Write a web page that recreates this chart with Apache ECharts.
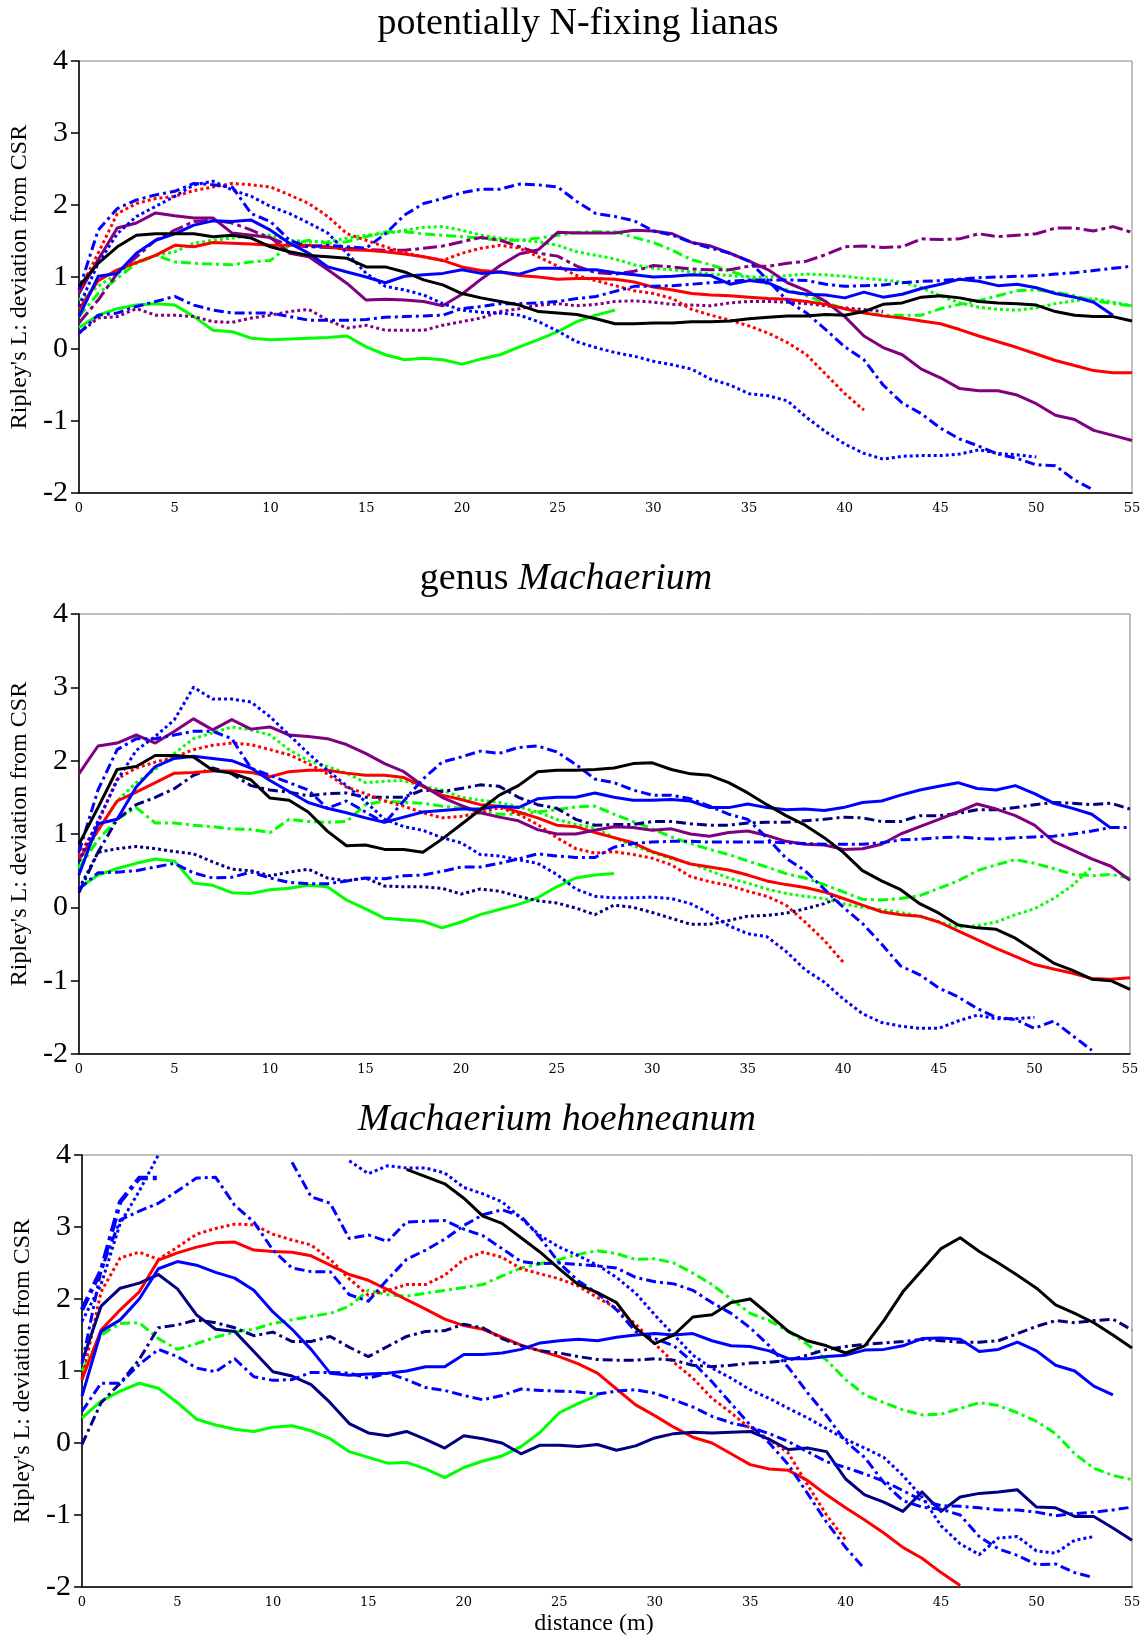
<!DOCTYPE html>
<html>
<head>
<meta charset="utf-8">
<script src="https://cdn.jsdelivr.net/npm/echarts@6/dist/echarts.min.js"></script>
<style>
    html, body {margin: 0; padding: 0; background: #fff;}
    #main {width: 1147px; height: 1638px;}
</style>
</head>
<body>
<div id="main"></div>
<script>
// distance (m), one value every metre
var dist = [0,1,2,3,4,5,6,7,8,9,10,11,12,13,14,15,16,17,18,19,20,21,22,23,24,25,26,27,
    28,29,30,31,32,33,34,35,36,37,38,39,40,41,42,43,44,45,46,47,48,49,50,51,52,53,54,55];
var x_ticks = [0, 55, 5];
var y_ticks = [-2, 4, 1];

// ---- potentially N-fixing lianas ----
var p1_red_solid = [0.55,0.95,1.10,1.20,1.30,1.44,1.42,1.48,1.47,1.46, 1.44,1.44,1.44,1.42,1.38,1.37,1.35,1.32,1.28,1.23,
    1.14,1.09,1.07,1.02,1.00,0.97,0.98,0.98,0.97,0.93, 0.86,0.82,0.77,0.75,0.74,0.72,0.70,0.69,0.66,0.62,
    0.56,0.50,0.46,0.43,0.39,0.35,0.27,0.18,0.10,0.02, -0.07,-0.16,-0.23,-0.30,-0.33,-0.33];
var p1_red_dot = [0.80,1.33,1.88,2.02,2.09,2.12,2.20,2.25,2.30,2.28, 2.25,2.14,2.02,1.84,1.60,1.51,1.42,1.34,1.28,1.23,
    1.33,1.40,1.44,1.40,1.28,1.15,1.02,0.95,0.88,0.81, 0.77,0.70,0.55,0.47,0.40,0.32,0.22,0.09,-0.08,-0.35,
    -0.62,-0.85,null,null,null,null,null,null,null,null, null,null,null,null,null,null];
var p1_green_solid = [0.30,0.47,0.56,0.61,0.63,0.61,0.45,0.26,0.24,0.15, 0.13,0.14,0.15,0.16,0.18,0.03,-0.08,-0.15,-0.13,-0.15,
    -0.21,-0.14,-0.08,0.03,0.13,0.24,0.38,0.47,0.54,null, null,null,null,null,null,null,null,null,null,null,
    null,null,null,null,null,null,null,null,null,null, null,null,null,null,null,null];
var p1_green_dot = [0.68,0.87,1.05,1.21,1.30,1.35,1.47,1.51,1.54,1.58, 1.58,1.51,1.49,1.49,1.54,1.58,1.60,1.65,1.69,1.70,
    1.65,1.58,1.54,1.51,1.49,1.44,1.35,1.30,1.25,1.17, 1.12,1.10,1.07,1.04,1.02,1.00,1.00,1.02,1.04,1.03,
    1.01,0.98,0.96,0.93,0.85,0.74,0.64,0.58,0.55,0.54, 0.57,0.63,0.67,0.70,0.65,0.60];
var p1_green_dashdot = [0.45,0.77,0.98,1.19,1.30,1.21,1.19,1.18,1.17,1.21, 1.23,1.44,1.51,1.47,1.49,1.56,1.63,1.63,1.60,1.58,
    1.56,1.54,1.51,1.51,1.54,1.58,1.62,1.63,1.63,1.55, 1.48,1.37,1.24,1.17,1.08,1.00,0.90,0.82,0.74,0.64,
    0.56,0.50,0.47,0.47,0.47,0.56,0.62,0.67,0.74,0.81, 0.82,0.79,0.74,0.67,0.63,0.60];
var p1_blue_solid = [0.45,1.01,1.05,1.33,1.51,1.60,1.72,1.78,1.77,1.79, 1.65,1.47,1.33,1.14,1.07,1.00,0.92,1.01,1.03,1.05,
    1.10,1.05,1.07,1.04,1.12,1.12,1.10,1.10,1.06,1.03, 1.00,1.01,1.03,1.02,0.90,0.95,0.92,0.80,0.76,0.75,
    0.71,0.79,0.72,0.76,0.84,0.90,0.97,0.94,0.88,0.90, 0.85,0.77,0.72,0.65,0.47,null];
var p1_blue_dot = [0.59,1.19,1.60,1.84,1.98,2.12,2.28,2.33,2.21,2.12, 1.98,1.88,1.75,1.61,1.33,1.05,0.87,0.82,0.75,0.63,
    0.54,0.51,0.50,0.47,0.38,0.25,0.10,0.02,-0.05,-0.10, -0.17,-0.22,-0.28,-0.42,-0.50,-0.62,-0.65,-0.72,-0.95,-1.15,
    -1.32,-1.45,-1.53,-1.49,-1.48,-1.48,-1.46,-1.40,-1.45,-1.47, -1.50,null,null,null,null,null];
var p1_blue_dashdot_low = [0.22,0.47,0.50,0.59,0.66,0.73,0.61,0.54,0.50,0.50, 0.50,0.45,0.40,0.40,0.40,0.41,0.44,0.45,0.46,0.47,
    0.56,0.59,0.63,0.63,0.64,0.66,0.70,0.73,0.80,0.87, 0.87,0.88,0.90,0.92,0.94,0.96,0.96,0.96,0.95,0.90,
    0.87,0.88,0.89,0.92,0.94,0.95,0.97,0.99,1.00,1.01, 1.02,1.04,1.06,1.09,1.12,1.15];
var p1_blue_dashdot_high = [0.82,1.65,1.95,2.07,2.14,2.19,2.30,2.28,2.25,1.88, 1.77,1.51,1.42,1.44,1.42,1.40,1.60,1.86,2.02,2.09,
    2.17,2.22,2.22,2.29,2.28,2.25,2.05,1.88,1.84,1.78, 1.64,1.58,1.48,1.40,1.33,1.22,0.95,0.67,0.50,0.27,
    0.03,-0.15,-0.50,-0.75,-0.90,-1.10,-1.25,-1.35,-1.46,-1.52, -1.61,-1.62,-1.82,-1.96,null,null];
var p1_purple_solid = [0.77,1.24,1.68,1.75,1.89,1.85,1.82,1.82,1.61,1.58, 1.55,1.33,1.28,1.10,0.91,0.68,0.69,0.68,0.66,0.60,
    0.76,0.97,1.16,1.32,1.38,1.62,1.61,1.61,1.61,1.65, 1.64,1.60,1.48,1.43,1.33,1.22,1.10,0.92,0.81,0.66,
    0.45,0.18,0.02,-0.08,-0.28,-0.40,-0.55,-0.58,-0.58,-0.64, -0.76,-0.92,-0.98,-1.13,-1.20,-1.27];
var p1_purple_dot = [0.22,0.43,0.45,0.56,0.47,0.47,0.45,0.38,0.37,0.43, 0.47,0.52,0.55,0.40,0.29,0.33,0.26,0.26,0.26,0.33,
    0.38,0.43,0.52,0.56,0.61,0.63,0.60,0.62,0.66,0.67, 0.65,0.62,0.61,0.60,0.64,0.66,0.66,0.65,0.63,0.60,
    0.57,0.55,0.52,null,null,null,null,null,null,null, null,null,null,null,null,null];
var p1_purple_dashdot = [0.36,0.68,1.05,1.28,1.51,1.65,1.77,1.79,1.75,1.65, 1.54,1.44,1.42,1.41,1.40,1.38,1.37,1.37,1.40,1.43,
    1.49,1.55,1.51,1.42,1.33,1.29,1.15,1.06,1.04,1.08, 1.16,1.14,1.11,1.10,1.10,1.15,1.15,1.19,1.22,1.31,
    1.42,1.43,1.41,1.42,1.53,1.52,1.53,1.60,1.56,1.58, 1.60,1.68,1.68,1.64,1.70,1.62];
var p1_black = [0.87,1.19,1.42,1.58,1.60,1.60,1.60,1.56,1.58,1.54, 1.42,1.35,1.30,1.28,1.26,1.14,1.14,1.07,0.96,0.89,
    0.77,0.71,0.66,0.61,0.52,0.50,0.48,0.42,0.35,0.35, 0.36,0.36,0.38,0.38,0.39,0.42,0.44,0.46,0.46,0.48,
    0.47,0.52,0.62,0.64,0.72,0.74,0.71,0.66,0.64,0.63, 0.61,0.52,0.47,0.45,0.45,0.39];

// ---- genus Machaerium ----
var p2_purple = [1.82,2.20,2.24,2.35,2.24,2.40,2.57,2.42,2.56,2.43, 2.46,2.35,2.33,2.30,2.22,2.10,1.96,1.85,1.66,1.50,
    1.39,1.29,1.23,1.18,1.06,1.00,1.00,1.05,1.10,1.09, 1.05,1.07,1.00,0.97,1.02,1.04,0.98,0.90,0.86,0.85,
    0.79,0.80,0.86,1.00,1.10,1.20,1.30,1.41,1.34,1.25, 1.12,0.90,0.78,0.66,0.56,0.37];
var p2_black = [0.86,1.36,1.88,1.92,2.07,2.07,2.05,1.87,1.83,1.74, 1.49,1.46,1.30,1.04,0.84,0.85,0.79,0.79,0.75,0.93,
    1.13,1.33,1.53,1.66,1.85,1.87,1.87,1.88,1.90,1.96, 1.97,1.88,1.82,1.80,1.70,1.56,1.40,1.25,1.12,0.95,
    0.75,0.50,0.36,0.24,0.05,-0.08,-0.24,-0.28,-0.30,-0.42, -0.59,-0.76,-0.86,-0.98,-1.00,-1.12];
var p2_red_solid = [0.65,1.05,1.45,1.57,1.70,1.83,1.84,1.86,1.86,1.84, 1.78,1.85,1.87,1.87,1.83,1.80,1.80,1.77,1.65,1.53,
    1.47,1.40,1.38,1.30,1.22,1.12,1.10,1.02,0.95,0.88, 0.76,0.68,0.59,0.55,0.51,0.44,0.36,0.31,0.27,0.21,
    0.12,0.03,-0.06,-0.10,-0.12,-0.20,-0.32,-0.44,-0.56,-0.67, -0.78,-0.84,-0.90,-0.97,-0.98,-0.96];
var p2_red_dot = [0.70,1.15,1.75,1.90,1.98,2.05,2.15,2.21,2.24,2.22, 2.15,2.08,1.96,1.82,1.64,1.55,1.45,1.38,1.29,1.22,
    1.24,1.29,1.36,1.27,1.13,0.95,0.80,0.74,0.76,0.72, 0.67,0.58,0.42,0.35,0.30,0.22,0.15,0.03,-0.20,-0.45,
    -0.75,null,null,null,null,null,null,null,null,null, null,null,null,null,null,null];
var p2_green_solid = [0.26,0.44,0.53,0.60,0.66,0.63,0.33,0.30,0.20,0.19, 0.24,0.26,0.30,0.28,0.10,-0.02,-0.15,-0.17,-0.19,-0.28,
    -0.20,-0.10,-0.03,0.04,0.13,0.28,0.40,0.44,0.46,null, null,null,null,null,null,null,null,null,null,null,
    null,null,null,null,null,null,null,null,null,null, null,null,null,null,null,null];
var p2_green_dot = [0.55,1.05,1.45,1.70,1.88,2.10,2.30,2.38,2.46,2.42, 2.35,2.15,2.00,1.92,1.83,1.70,1.72,1.73,1.65,1.60,
    1.50,1.46,1.43,1.37,1.30,1.20,1.13,1.08,0.95,0.84, 0.75,0.66,0.60,0.50,0.40,0.33,0.25,0.19,0.15,0.12,
    0.05,0.00,-0.03,-0.07,-0.12,-0.20,-0.27,-0.25,-0.20,-0.10, -0.02,0.12,0.30,0.55,null,null];
var p2_green_dashdot = [0.53,0.92,1.20,1.36,1.15,1.15,1.12,1.10,1.07,1.06, 1.02,1.20,1.17,1.16,1.17,1.40,1.45,1.43,1.42,1.38,
    1.35,1.30,1.27,1.27,1.30,1.33,1.37,1.38,1.27,1.17, 1.07,0.96,0.87,0.79,0.72,0.63,0.55,0.46,0.40,0.31,
    0.21,0.11,0.10,0.12,0.16,0.26,0.36,0.50,0.58,0.65, 0.60,0.53,0.45,0.43,0.45,0.40];
var p2_blue_solid = [0.44,1.14,1.20,1.64,1.92,2.03,2.06,2.03,2.00,1.90, 1.73,1.58,1.43,1.35,1.29,1.22,1.16,1.23,1.30,1.32,
    1.34,1.34,1.38,1.36,1.48,1.50,1.50,1.56,1.50,1.46, 1.46,1.47,1.45,1.36,1.36,1.41,1.36,1.33,1.34,1.32,
    1.36,1.43,1.45,1.53,1.60,1.65,1.70,1.62,1.60,1.66, 1.55,1.42,1.35,1.27,1.08,null];
var p2_blue_dot = [0.62,1.18,1.73,2.14,2.33,2.56,3.00,2.84,2.84,2.80, 2.60,2.35,2.10,1.87,1.66,1.44,1.20,1.10,1.05,0.95,
    0.88,0.72,0.70,0.65,0.60,0.45,0.25,0.15,0.13,0.13, 0.14,0.12,0.05,-0.08,-0.25,-0.36,-0.40,-0.60,-0.85,-1.02,
    -1.25,-1.45,-1.57,-1.62,-1.65,-1.65,-1.55,-1.47,-1.52,-1.52, -1.50,null,null,null,null,null];
var p2_blue_dashdot_low = [0.25,0.47,0.48,0.50,0.55,0.60,0.47,0.40,0.41,0.48, 0.40,0.34,0.32,0.32,0.36,0.40,0.39,0.43,0.44,0.49,
    0.55,0.55,0.60,0.66,0.73,0.70,0.68,0.68,0.82,0.87, 0.89,0.90,0.90,0.89,0.89,0.89,0.89,0.88,0.87,0.86,
    0.86,0.86,0.88,0.92,0.93,0.95,0.96,0.94,0.93,0.95, 0.96,0.97,1.00,1.04,1.09,1.09];
var p2_blue_dashdot_high = [0.75,1.60,2.15,2.30,2.30,2.35,2.40,2.40,2.30,1.90, 1.80,1.70,1.60,1.35,1.45,1.30,1.15,1.45,1.75,1.98,
    2.05,2.13,2.10,2.18,2.20,2.12,1.95,1.75,1.70,1.60, 1.53,1.53,1.48,1.38,1.27,1.20,0.95,0.67,0.50,0.25,
    0.00,-0.22,-0.50,-0.80,-0.92,-1.10,-1.22,-1.38,-1.50,-1.53, -1.65,-1.55,-1.75,-1.95,null,null];
var p2_navy_dot = [0.25,0.75,0.80,0.83,0.80,0.76,0.73,0.62,0.52,0.50, 0.43,0.48,0.52,0.40,0.36,0.40,0.29,0.28,0.28,0.26,
    0.18,0.25,0.22,0.15,0.09,0.06,-0.01,-0.10,0.03,0.00, -0.07,-0.15,-0.23,-0.23,-0.18,-0.12,-0.11,-0.08,-0.02,0.05,
    0.15,null,null,null,null,null,null,null,null,null, null,null,null,null,null,null];
var p2_navy_dashdot = [0.20,0.75,1.20,1.40,1.50,1.62,1.80,1.90,1.82,1.66, 1.60,1.57,1.52,1.55,1.56,1.50,1.50,1.50,1.60,1.58,
    1.62,1.67,1.65,1.50,1.40,1.35,1.20,1.12,1.13,1.13, 1.17,1.17,1.14,1.12,1.12,1.15,1.16,1.16,1.18,1.20,
    1.23,1.22,1.17,1.17,1.25,1.25,1.28,1.33,1.33,1.36, 1.40,1.43,1.42,1.40,1.42,1.34];

// ---- Machaerium hoehneanum ----
var p3_red_solid = [0.88,1.57,1.85,2.10,2.54,2.64,2.72,2.78,2.79,2.68, 2.66,2.65,2.60,2.47,2.34,2.26,2.13,1.99,1.86,1.72,
    1.63,1.58,1.47,1.36,1.28,1.20,1.10,0.97,0.75,0.53, 0.38,0.22,0.08,0.00,-0.15,-0.30,-0.36,-0.38,-0.52,-0.72,
    -0.90,-1.07,-1.25,-1.45,-1.60,-1.80,-1.98,null,null,null, null,null,null,null,null,null];
var p3_red_dot = [0.88,2.10,2.57,2.65,2.55,2.72,2.90,2.98,3.04,3.03, 2.90,2.82,2.75,2.55,2.28,2.05,2.12,2.20,2.20,2.33,
    2.55,2.65,2.58,2.42,2.35,2.28,2.18,2.02,1.87,1.65, 1.38,1.12,0.90,0.62,0.42,0.20,0.05,-0.14,-0.58,-1.00,
    -1.35,null,null,null,null,null,null,null,null,null, null,null,null,null,null,null];
var p3_green_solid = [0.35,0.58,0.72,0.83,0.76,0.56,0.33,0.25,0.19,0.16, 0.22,0.24,0.17,0.06,-0.12,-0.20,-0.28,-0.27,-0.36,-0.48,
    -0.34,-0.25,-0.18,-0.05,0.15,0.42,0.55,0.66,null,null, null,null,null,null,null,null,null,null,null,null,
    null,null,null,null,null,null,null,null,null,null, null,null,null,null,null,null];
var p3_green_dashdot = [1.00,1.50,1.66,1.67,1.45,1.30,1.38,1.47,1.54,1.58, 1.66,1.71,1.76,1.80,1.90,2.12,2.06,2.04,2.08,2.12,
    2.16,2.20,2.32,2.43,2.49,2.55,2.62,2.67,2.63,2.55, 2.56,2.50,2.36,2.20,2.00,1.80,1.70,1.55,1.37,1.15,
    0.88,0.67,0.56,0.46,0.39,0.40,0.48,0.56,0.52,0.42, 0.30,0.13,-0.15,-0.35,-0.45,-0.51];
var p3_blue_solid = [0.65,1.55,1.71,2.00,2.42,2.52,2.47,2.37,2.29,2.12, 1.82,1.58,1.30,0.97,0.94,0.96,0.97,1.00,1.06,1.06,
    1.23,1.23,1.25,1.30,1.39,1.42,1.44,1.42,1.47,1.50, 1.52,1.50,1.52,1.42,1.35,1.34,1.28,1.17,1.17,1.20,
    1.22,1.29,1.30,1.35,1.45,1.46,1.44,1.27,1.30,1.40, 1.28,1.08,1.00,0.79,0.67,null];
var p3_navy_solid = [1.13,1.90,2.15,2.22,2.34,2.14,1.78,1.58,1.55,1.27, 0.99,0.93,0.81,0.56,0.27,0.14,0.10,0.16,0.05,-0.07,
    0.10,0.06,0.00,-0.15,-0.03,-0.03,-0.05,-0.02,-0.10,-0.04, 0.07,0.13,0.15,0.14,0.15,0.16,0.05,-0.09,-0.07,-0.12,
    -0.50,-0.72,-0.82,-0.95,-0.68,-0.95,-0.75,-0.70,-0.68,-0.65, -0.89,-0.90,-1.02,-1.02,-1.18,-1.35];
var p3_navy_dashdot = [-0.02,0.56,0.83,1.16,1.60,1.64,1.71,1.67,1.60,1.49, 1.54,1.41,1.41,1.48,1.33,1.20,1.34,1.48,1.55,1.56,
    1.65,1.60,1.45,1.35,1.28,1.25,1.20,1.16,1.15,1.15, 1.17,1.15,1.08,1.06,1.08,1.11,1.12,1.15,1.22,1.30,
    1.34,1.37,1.39,1.41,1.44,1.42,1.40,1.40,1.42,1.52, 1.62,1.70,1.67,1.70,1.72,1.57];
var p3_black = [null,null,null,null,null,null,null,null,null,null, null,null,null,null,null,null,null,3.80,3.70,3.60,
    3.40,3.15,3.05,2.85,2.65,2.42,2.20,2.09,1.95,1.60, 1.38,1.50,1.75,1.78,1.95,2.00,1.78,1.55,1.42,1.35,
    1.25,1.35,1.70,2.10,2.40,2.70,2.85,2.66,2.50,2.33, 2.15,1.92,1.80,1.67,1.50,1.32];
var p3_blue_dot = [1.69,2.20,3.05,3.50,4.00,null,null,null,null,null, null,null,null,null,3.92,3.74,3.85,3.82,3.82,3.75,
    3.55,3.46,3.35,3.12,2.88,2.72,2.60,2.47,2.30,2.08, 1.78,1.50,1.22,1.04,0.90,0.74,0.62,0.48,0.35,0.20,
    0.05,-0.07,-0.20,-0.45,-0.75,-1.15,-1.40,-1.55,-1.32,-1.30, -1.50,-1.53,-1.35,-1.30,null,null];
var p3_blue_thick = [1.85,2.40,3.35,3.68,3.68,null,null,null,null,null, null,null,null,null,null,null,null,null,null,null,
    null,null,null,null,null,null,null,null,null,null, null,null,null,null,null,null,null,null,null,null,
    null,null,null,null,null,null,null,null,null,null, null,null,null,null,null,null];
var p3_blue_dashdot_a = [1.10,2.40,3.10,3.22,3.33,3.50,3.68,3.69,3.30,3.07, 2.68,2.43,2.38,2.38,2.06,1.97,2.27,2.55,2.68,2.83,
    3.02,3.17,3.24,3.15,2.85,2.50,2.25,2.08,1.85,1.55, 1.45,1.35,1.12,0.85,0.55,0.25,0.00,-0.30,-0.70,-1.10,
    -1.45,-1.75,null,null,null,null,null,null,null,null, null,null,null,null,null,null];
var p3_blue_dashdot_b = [null,null,null,null,null,null,null,null,null,null, null,3.90,3.42,3.33,2.84,2.89,2.80,3.07,3.08,3.09,
    2.97,2.88,2.70,2.52,2.49,2.50,2.48,2.46,2.43,2.30, 2.24,2.21,2.12,1.95,1.80,1.60,1.35,1.05,0.70,0.38,
    0.02,-0.20,-0.55,-0.80,-0.89,-0.92,-1.00,-1.30,-1.47,-1.56, -1.69,-1.68,-1.80,-1.87,null,null];
var p3_blue_dashdot_low = [0.44,0.83,0.83,1.09,1.30,1.20,1.04,0.99,1.17,0.92, 0.87,0.88,0.98,0.98,0.97,0.90,0.97,0.88,0.77,0.73,
    0.66,0.60,0.66,0.75,0.73,0.72,0.71,0.68,0.72,0.74, 0.69,0.60,0.50,0.37,0.28,0.22,0.13,0.02,-0.12,-0.26,
    -0.34,-0.43,-0.53,-0.66,-0.80,-0.87,-0.88,-0.90,-0.93,-0.93, -0.96,-1.01,-0.98,-0.96,-0.93,-0.89];

var RED = '#ff0000', GREEN = '#00ff00', BLUE = '#0000ff', PURPLE = '#800080', BLACK = '#000000', NAVY = '#000080';
var dash_types = {
    solid: 'solid',
    dot: [3, 3],
    dashdot: [10, 4, 3, 4],
    longdashdot: [14, 4, 4, 4],
    thick: [14, 5, 4, 5]
};

var panel_lines = [
    [
        [p1_green_solid, GREEN, 'solid'], [p1_green_dot, GREEN, 'dot'], [p1_green_dashdot, GREEN, 'dashdot'],
        [p1_purple_dot, PURPLE, 'dot'], [p1_purple_dashdot, PURPLE, 'longdashdot'], [p1_purple_solid, PURPLE, 'solid'],
        [p1_red_dot, RED, 'dot'], [p1_red_solid, RED, 'solid'],
        [p1_blue_dot, BLUE, 'dot'], [p1_blue_dashdot_low, BLUE, 'dashdot'], [p1_blue_dashdot_high, BLUE, 'dashdot'],
        [p1_blue_solid, BLUE, 'solid'], [p1_black, BLACK, 'solid']
    ],
    [
        [p2_green_solid, GREEN, 'solid'], [p2_green_dot, GREEN, 'dot'], [p2_green_dashdot, GREEN, 'dashdot'],
        [p2_navy_dot, NAVY, 'dot'], [p2_navy_dashdot, NAVY, 'dashdot'],
        [p2_red_dot, RED, 'dot'], [p2_red_solid, RED, 'solid'], [p2_purple, PURPLE, 'solid'],
        [p2_blue_dot, BLUE, 'dot'], [p2_blue_dashdot_low, BLUE, 'dashdot'], [p2_blue_dashdot_high, BLUE, 'dashdot'],
        [p2_blue_solid, BLUE, 'solid'], [p2_black, BLACK, 'solid']
    ],
    [
        [p3_green_solid, GREEN, 'solid'], [p3_green_dashdot, GREEN, 'dashdot'],
        [p3_red_dot, RED, 'dot'], [p3_red_solid, RED, 'solid'],
        [p3_navy_dashdot, NAVY, 'dashdot'], [p3_navy_solid, NAVY, 'solid'],
        [p3_blue_dot, BLUE, 'dot'], [p3_blue_thick, BLUE, 'thick', 4.5],
        [p3_blue_dashdot_a, BLUE, 'dashdot'], [p3_blue_dashdot_b, BLUE, 'dashdot'], [p3_blue_dashdot_low, BLUE, 'dashdot'],
        [p3_blue_solid, BLUE, 'solid'], [p3_black, BLACK, 'solid']
    ]
];

// plot boxes
var boxes = [
    {left: 79, top: 61, width: 1053, height: 432},
    {left: 74, top: 614, width: 1056, height: 440},
    {left: 82, top: 1155, width: 1050, height: 432}
];

function toPts(vals) {
    return vals.map(function (v, i) {
        return [dist[i], v === null ? '-' : v];
    });
}

var SERIF = '"Liberation Serif", "Times New Roman", serif';
var grids = [], xAxes = [], yAxes = [], series = [];

boxes.forEach(function (b, k) {
    grids.push({
        left: b.left, top: b.top, width: b.width, height: b.height,
        show: true, borderColor: '#808080', borderWidth: 1, backgroundColor: 'transparent'
    });
    xAxes.push({
        type: 'value', gridIndex: k, min: x_ticks[0], max: x_ticks[1], interval: x_ticks[2],
        splitLine: {show: false},
        axisTick: {show: false},
        axisLine: {show: true, onZero: false, lineStyle: {color: '#000', width: 1.5}},
        axisLabel: {color: '#000', fontFamily: '"DejaVu Serif", serif', fontSize: 13, margin: 9}
    });
    yAxes.push({
        type: 'value', gridIndex: k, min: y_ticks[0], max: y_ticks[1], interval: y_ticks[2],
        splitLine: {show: false},
        axisTick: {show: true, length: 8, lineStyle: {color: '#000', width: 1.5}},
        axisLine: {show: true, onZero: false, lineStyle: {color: '#000', width: 1.5}},
        axisLabel: {color: '#000', fontFamily: SERIF, fontSize: 30, margin: 11},
        name: "Ripley's L: deviation from CSR",
        nameLocation: 'middle', nameGap: 44,
        nameTextStyle: {color: '#000', fontFamily: SERIF, fontSize: 24}
    });
    panel_lines[k].forEach(function (s) {
        series.push({
            type: 'line', xAxisIndex: k, yAxisIndex: k,
            data: toPts(s[0]),
            symbol: 'none', showSymbol: false, silent: true,
            connectNulls: false, clip: true,
            lineStyle: {color: s[1], width: s[3] || 3, type: dash_types[s[2]], cap: 'butt', join: 'round'}
        });
    });
});

var option = {
    backgroundColor: '#ffffff',
    animation: false,
    grid: grids,
    xAxis: xAxes,
    yAxis: yAxes,
    series: series,
    graphic: [
        {type: 'text', x: 578, y: 24, style: {text: 'potentially N-fixing lianas', fill: '#000',
            font: '38px ' + SERIF, textAlign: 'center', textVerticalAlign: 'middle'}},
        {type: 'text', x: 566, y: 579, style: {text: 'genus {i|Machaerium}', fill: '#000',
            font: '38px ' + SERIF, textAlign: 'center', textVerticalAlign: 'middle',
            rich: {i: {fontStyle: 'italic', fontSize: 38, fontFamily: SERIF, fill: '#000'}}}},
        {type: 'text', x: 557, y: 1120, style: {text: 'Machaerium hoehneanum', fill: '#000',
            font: 'italic 38px ' + SERIF, textAlign: 'center', textVerticalAlign: 'middle'}},
        {type: 'text', x: 594, y: 1624, style: {text: 'distance (m)', fill: '#000',
            font: '24px ' + SERIF, textAlign: 'center', textVerticalAlign: 'middle'}}
    ]
};

var chart = echarts.init(document.getElementById('main'), null, {renderer: 'canvas'});
chart.setOption(option);
</script>
</body>
</html>
